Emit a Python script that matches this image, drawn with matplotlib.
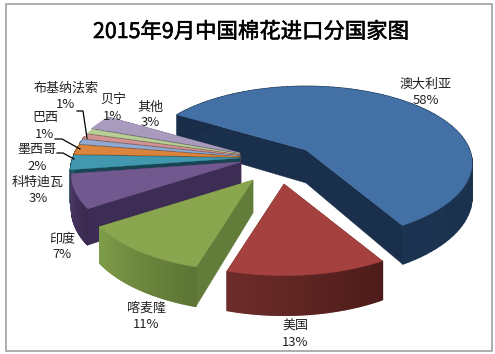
import numpy as np
import matplotlib
matplotlib.use("Agg")
import matplotlib.pyplot as plt
import matplotlib.patheffects as pe
from matplotlib.patches import Polygon, Rectangle

plt.rcParams['font.family'] = ['Noto Sans CJK SC', 'DejaVu Sans']

title = "2015年9月中国棉花进口分国家图"
countries = ["澳大利亚", "美国", "喀麦隆", "印度", "科特迪瓦", "墨西哥", "巴西", "布基纳法索", "贝宁", "其他"]
shares = [58, 13, 11, 7, 3, 2, 1, 1, 1, 3]

top_colors = ["#4371a6", "#a5423f", "#89a54e", "#71588f", "#4198af", "#db843d", "#93a9cf", "#d19392", "#b9cd96", "#a99bbd"]
wall_light = ["#1b3350", "#6e2d2a", "#7f9c49", "#4a3764", "#1f5a6b", "#9a5a20", "#55688a", "#8a5554", "#6f8357", "#5c5070"]
wall_dark = ["#192d48", "#4c1b19", "#5c7434", "#3a2a50", "#174652", "#7a4515", "#445470", "#6d4140", "#5a6b45", "#4a3f5c"]
face_colors = ["#1a2f4b", "#5a2220", "#627c39", "#3d2d54", "#174652", "#7a4515", "#445470", "#6d4140", "#5a6b45", "#4a3f5c"]
apex = [(306, 150), (284, 184), (253, 180), (241, 162), (240, 158), (240, 157), (240, 156), (240, 155), (240, 154), (240, 153)]
radius_scale = [0.98, 1, 1, 1, 1, 1, 1, 1, 1, 1]
draw_order = [0, 9, 8, 7, 6, 5, 4, 3, 2, 1]
label_xy = [(426, 92), (295, 334), (146, 316), (62, 247), (38, 190), (37, 158), (45, 126), (66, 96), (113, 108), (150, 115)]
leaders = {7: [(77, 111), (83, 111), (87, 138)],
           6: [(55, 139), (62, 139), (80, 149)],
           5: [(57, 153), (63, 153), (74, 159)]}

A, B, P, START, H = 167.0, 76.0, 0.17, 149.0, 33.0

fig = plt.figure(figsize=(4.95, 3.54), dpi=100)
ax = fig.add_axes([0, 0, 1, 1])
ax.set_xlim(0, 495)
ax.set_ylim(354, 0)
ax.axis("off")
ax.add_patch(Rectangle((6, 4), 485.5, 347, fc="white", ec="#a0a0a0", lw=1.2))


def kf(t):
    return 1.0 / (1.0 + P * np.sin(t))


def rim(c, t, s):
    k = kf(t) * s
    return np.column_stack([c[0] + A * np.cos(t) * k, c[1] - B * np.sin(t) * k])


def poly(pts, col, z, lw=0.3):
    ax.add_patch(Polygon(pts, closed=True, fc=col, ec=col, lw=lw, zorder=z))


cum = np.cumsum([0] + shares)
for z, i in enumerate(draw_order):
    t0 = np.radians(START - 3.6 * cum[i])
    t1 = np.radians(START - 3.6 * cum[i + 1])
    ts = np.linspace(t0, t1, 90)
    c = np.array(apex[i], float)
    top = rim(c, ts, radius_scale[i])
    base = top + np.column_stack([np.zeros_like(ts), H * kf(ts)])
    zz = z * 10 + 10
    bottom_c = c + [0, H]
    poly([c, top[0], base[0], bottom_c], face_colors[i], zz)
    poly([c, top[-1], base[-1], bottom_c], face_colors[i], zz + 1)
    la = np.array(matplotlib.colors.to_rgb(wall_light[i]))
    da = np.array(matplotlib.colors.to_rgb(wall_dark[i]))
    n = len(ts) - 1
    for j in range(n):
        if np.sin(ts[j]) > 0.25 and i != 0:
            continue
        f = 1 - j / max(n - 1, 1)
        col = la * (1 - f) + da * f
        poly([top[j], top[j + 1], base[j + 1], base[j]], tuple(col), zz + 2, lw=1.0)
    poly(np.vstack([c, top]), top_colors[i], zz + 3)

for i, (x, y) in enumerate(label_xy):
    ax.text(x, y, f"{countries[i]}\n{shares[i]}%", ha="center", va="center",
            fontsize=9.4, color="#222222", linespacing=1.3, zorder=300)

for pts in leaders.values():
    p = np.array(pts)
    ax.plot(p[:, 0], p[:, 1], color="black", lw=0.9, zorder=301)

ax.text(251, 32, title, ha="center", va="center", fontsize=15.4, color="black", zorder=300,
        path_effects=[pe.withStroke(linewidth=0.4, foreground="black")])

fig.savefig("out.png", dpi=100)
